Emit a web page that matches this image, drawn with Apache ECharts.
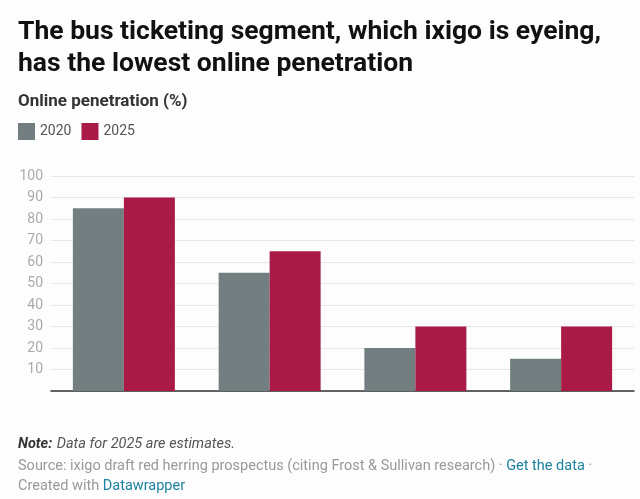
<!DOCTYPE html>
<html>
<head>
<meta charset="utf-8">
<script src="https://cdn.jsdelivr.net/npm/echarts@6/dist/echarts.min.js"></script>
<style>
html,body{margin:0;padding:0;background:#fdfdfd;}
#chart{width:640px;height:499px;}
</style>
</head>
<body>
<div id="chart"></div>
<script>
var categories = ["Air", "Hotels", "Rail", "Bus"];
var seriesNames = ["2020", "2025"];
var values2020 = [85, 55, 20, 15];
var values2025 = [90, 65, 30, 30];
var yTicks = [0, 10, 20, 30, 40, 50, 60, 70, 80, 90, 100];

var FONT = 'Roboto, "Liberation Sans", sans-serif';
var chart = echarts.init(document.getElementById('chart'), null, {renderer: 'canvas'});
chart.setOption({
  backgroundColor: '#fdfdfd',
  animation: false,
  textStyle: {fontFamily: FONT},
  title: [
    {
      text: 'The bus ticketing segment, which ixigo is eyeing,\nhas the lowest online penetration',
      left: 18, top: 16, padding: 0,
      textStyle: {fontSize: 26.5, fontWeight: 'bold', color: '#111', lineHeight: 32, fontFamily: FONT}
    },
    {
      text: 'Online penetration (%)',
      left: 18, top: 93, padding: 0,
      textStyle: {fontSize: 17, fontWeight: 'bold', color: '#333', fontFamily: FONT}
    },
    {
      text: '{b|Note:} {i|Data for 2025 are estimates.}',
      left: 18, top: 435, padding: 0,
      textStyle: {
        fontFamily: FONT, fontWeight: 'normal',
        rich: {
          b: {fontSize: 14.5, fontWeight: 'bold', fontStyle: 'italic', color: '#333', fontFamily: FONT},
          i: {fontSize: 14.5, fontWeight: 'normal', fontStyle: 'italic', color: '#555', fontFamily: FONT}
        }
      }
    },
    {
      text: '{g|Source: ixigo draft red herring prospectus (citing Frost & Sullivan research) · }{l|Get the data}{g| ·}\n{g|Created with }{l|Datawrapper}',
      left: 18, top: 456, padding: 0,
      textStyle: {
        fontFamily: FONT, fontWeight: 'normal',
        lineHeight: 20,
        rich: {
          g: {fontSize: 14.5, fontWeight: 'normal', color: '#999', lineHeight: 20, fontFamily: FONT},
          l: {fontSize: 14.5, fontWeight: 'normal', color: '#1d81a2', lineHeight: 20, fontFamily: FONT}
        }
      }
    }
  ],
  legend: {
    left: 18, top: 123, padding: 0,
    itemWidth: 17, itemHeight: 17, itemGap: 10,
    icon: 'rect',
    textStyle: {fontSize: 14, color: '#555', fontFamily: FONT},
    data: seriesNames
  },
  grid: {left: 51, right: 6, top: 176, bottom: 108, containLabel: false},
  xAxis: {
    type: 'category',
    data: categories,
    axisLine: {show: true, lineStyle: {color: '#333', width: 1.5}},
    axisTick: {show: false},
    axisLabel: {show: false}
  },
  yAxis: {
    type: 'value',
    min: yTicks[0], max: yTicks[yTicks.length - 1], interval: 10,
    axisLine: {show: false},
    axisTick: {show: false},
    axisLabel: {
      fontSize: 14, color: '#aaa', margin: 8, fontFamily: FONT,
      formatter: function (v) { return v === 0 ? '' : String(v); }
    },
    splitLine: {lineStyle: {color: '#e6e6e6', width: 1}}
  },
  series: [
    {
      name: seriesNames[0], type: 'bar', data: values2020,
      barWidth: 51, barGap: '0%',
      itemStyle: {color: '#727e80'}
    },
    {
      name: seriesNames[1], type: 'bar', data: values2025,
      barWidth: 51, barGap: '0%',
      itemStyle: {color: '#a91a46'}
    }
  ]
});
</script>
</body>
</html>
